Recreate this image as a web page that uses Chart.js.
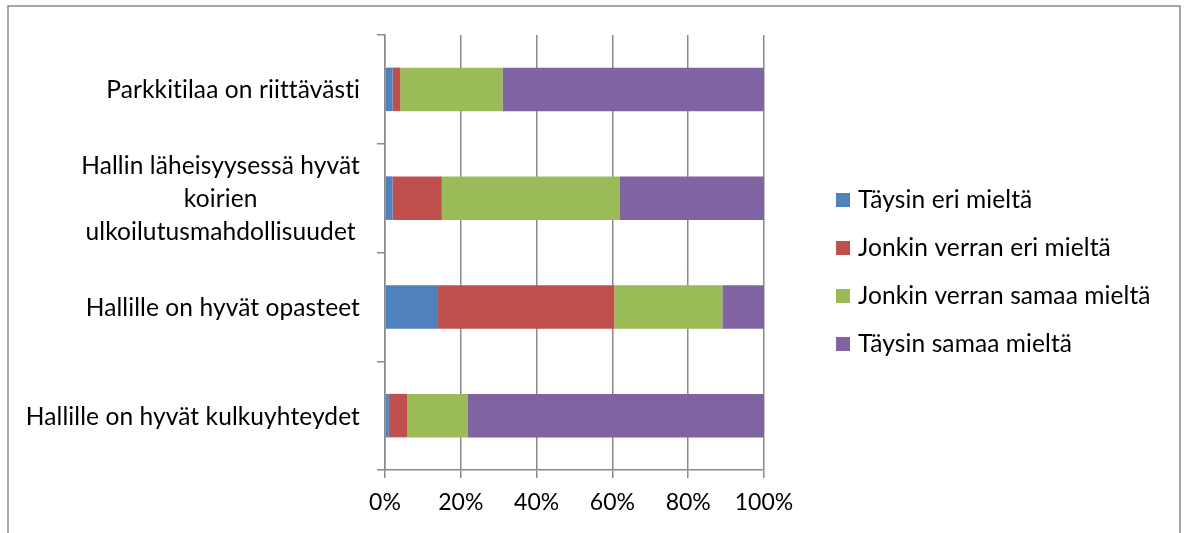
<!DOCTYPE html>
<html>
<head>
<meta charset="utf-8">
<script src="https://cdn.jsdelivr.net/npm/chart.js@4/dist/chart.umd.min.js"></script>
<style>
  html, body { margin: 0; padding: 0; background: #ffffff; }
  #wrap { position: relative; width: 1184px; height: 533px; }
</style>
</head>
<body>
<div id="wrap"><canvas id="c" width="1184" height="533"></canvas></div>
<script>
// Statements (top to bottom) and the share of answers per option, in percent
const categories = [
  'Parkkitilaa on riittävästi',
  ['Hallin läheisyysessä hyvät', 'koirien', 'ulkoilutusmahdollisuudet'],
  'Hallille on hyvät opasteet',
  'Hallille on hyvät kulkuyhteydet'
];
const seriesNames = [
  'Täysin eri mieltä',
  'Jonkin verran eri mieltä',
  'Jonkin verran samaa mieltä',
  'Täysin samaa mieltä'
];
const taysinEri   = [2, 2, 14, 1];
const jonkinEri   = [2, 13, 46.5, 4.8];
const jonkinSama  = [27, 47, 28.5, 16.1];
const taysinSama  = [69, 38, 11, 78.1];
const xTicks = [0, 20, 40, 60, 80, 100];

const colors = ['#4f81bd', '#c0504d', '#9bbb59', '#8064a2'];
const FONT = 'Lato, "Open Sans", sans-serif';
const FSIZE = 24.5;
const TICK_FSIZE = 23;
const GRID = '#8a8a8a';

const values = [taysinEri, jonkinEri, jonkinSama, taysinSama];

// Outer frame of the chart object
const framePlugin = {
  id: 'frame',
  beforeDraw(chart) {
    const ctx = chart.ctx;
    ctx.save();
    ctx.strokeStyle = GRID;
    ctx.lineWidth = 1.5;
    ctx.strokeRect(8, 6, 1172, 560);
    ctx.restore();
  }
};

// Category labels: each block right-aligned to the axis, lines centered within the block
const yLabelPlugin = {
  id: 'yLabels',
  afterDraw(chart) {
    const ctx = chart.ctx;
    const y = chart.scales.y;
    ctx.save();
    ctx.font = FSIZE + 'px ' + FONT;
    ctx.letterSpacing = '0.1px'; // keeps "ti" from turning into a ligature
    ctx.fillStyle = '#000000';
    ctx.textBaseline = 'middle';
    ctx.textAlign = 'center';
    const right = chart.chartArea.left - 25;
    const lh = 33;
    categories.forEach((lab, i) => {
      const lines = Array.isArray(lab) ? lab : [lab];
      const w = Math.max(...lines.map(l => ctx.measureText(l).width));
      const cx = right - w / 2;
      const cy = y.getPixelForTick(i) + 1;
      lines.forEach((l, k) => {
        ctx.fillText(l, cx, cy + (k - (lines.length - 1) / 2) * lh);
      });
    });
    ctx.restore();
  }
};

// Legend at the right, squares with series names
const legendPlugin = {
  id: 'sideLegend',
  afterDraw(chart) {
    const ctx = chart.ctx;
    ctx.save();
    ctx.font = FSIZE + 'px ' + FONT;
    ctx.letterSpacing = '0.1px';
    ctx.textBaseline = 'middle';
    ctx.textAlign = 'left';
    const x0 = chart.chartArea.right + 72;
    const y0 = 200, step = 48;
    chart.data.datasets.forEach((ds, i) => {
      const cy = y0 + i * step;
      ctx.fillStyle = ds.backgroundColor;
      ctx.fillRect(x0, cy - 7, 14, 14);
      ctx.fillStyle = '#000000';
      ctx.fillText(ds.label, x0 + 22, cy);
    });
    ctx.restore();
  }
};

new Chart(document.getElementById('c'), {
  type: 'bar',
  data: {
    labels: categories,
    datasets: seriesNames.map((name, i) => ({
      label: name,
      data: values[i],
      backgroundColor: colors[i],
      borderWidth: 0,
      categoryPercentage: 1,
      barPercentage: 0.4
    }))
  },
  options: {
    indexAxis: 'y',
    responsive: false,
    animation: false,
    devicePixelRatio: 1,
    layout: { padding: { left: 0, right: 420, top: 35, bottom: 0 } },
    plugins: {
      legend: { display: false },
      tooltip: { enabled: false }
    },
    scales: {
      x: {
        stacked: true,
        min: 0,
        max: 100,
        afterBuildTicks(scale) { scale.ticks = xTicks.map(v => ({ value: v })); },
        ticks: {
          callback: v => v + '%',
          font: { family: FONT, size: TICK_FSIZE },
          color: '#000000',
          padding: 11,
          maxRotation: 0
        },
        grid: { color: GRID, lineWidth: 1.5, tickLength: 8, drawTicks: true },
        border: { color: GRID, width: 1.5 },
        afterFit(scale) { scale.height = 63; }
      },
      y: {
        stacked: true,
        ticks: { display: false },
        grid: { display: true, drawOnChartArea: false, offset: true, tickLength: 8, color: GRID, lineWidth: 1.5 },
        border: { color: GRID, width: 1.5 },
        afterFit(scale) { scale.width = 385; }
      }
    }
  },
  plugins: [framePlugin, yLabelPlugin, legendPlugin]
});
</script>
</body>
</html>
